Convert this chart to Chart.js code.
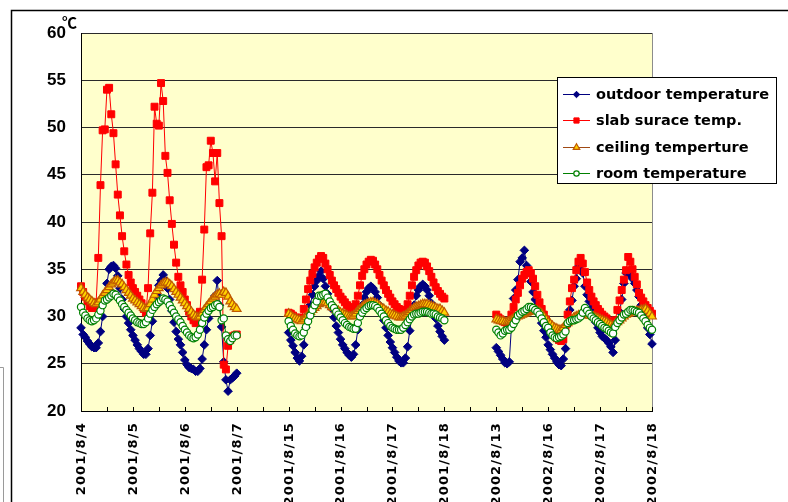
<!DOCTYPE html>
<html>
<head>
<meta charset="utf-8">
<script src="https://cdn.jsdelivr.net/npm/chart.js@4/dist/chart.umd.min.js"></script>
<style>
  html, body { margin: 0; padding: 0; background: #fff; }
  canvas { display: block; }
</style>
</head>
<body>
<canvas id="chart" width="788" height="502"></canvas>
<script>
// Day labels shown on the category axis (one every 24 hourly readings)
const dayLabels = ['2001/8/4', '2001/8/5', '2001/8/6', '2001/8/7',
                   '2001/8/15', '2001/8/16', '2001/8/17', '2001/8/18',
                   '2002/8/13', '2002/8/16', '2002/8/17', '2002/8/18'];
const HOURS_PER_DAY = 24;

// Each measurement run starts at the category of this day label
const runStarts = ['2001/8/4', '2001/8/15', '2002/8/13'];

const seriesNames = ['outdoor temperature', 'slab surace temp.', 'ceiling temperture', 'room temperature'];

// Hourly readings, °C — run 1
const outdoorRun1 = [28.8,28.1,27.8,27.4,27.1,26.8,26.7,26.7,27.2,28.4,
  30.0,31.8,33.5,35.0,35.3,35.4,35.1,34.3,33.0,31.8,
  30.8,30.0,29.3,28.6,28.0,27.5,27.0,26.6,26.3,26.0,
  26.0,26.6,28.0,29.5,31.0,32.3,33.3,33.8,34.4,33.8,
  33.0,31.8,30.6,29.4,28.4,27.6,27.0,26.2,25.4,24.9,
  24.6,24.5,24.4,24.2,24.2,24.5,25.5,27.0,28.6,29.8,
  30.8,31.5,32.2,33.8,31.2,28.9,25.2,23.3,22.1,23.3,
  23.5,23.7,24.0];
const slabRun1 = [33.2,32.6,32.1,31.6,31.1,30.9,30.9,31.5,36.2,43.9,
  49.7,49.8,54.0,54.2,51.4,49.4,46.1,42.9,40.7,38.5,
  36.9,35.5,34.4,33.6,33.0,32.6,32.2,31.8,31.4,30.8,
  30.4,33.0,38.8,43.1,52.2,50.4,50.2,54.7,52.8,47.0,
  45.2,42.3,39.8,37.6,35.7,34.2,33.3,32.6,31.8,31.2,
  30.5,30.0,29.6,29.3,29.4,30.5,33.9,39.2,45.8,46.0,
  48.6,47.3,44.3,47.3,42.0,38.5,24.9,24.4,26.9,27.5,
  27.9,28.0,28.1];
const ceilingRun1 = [33.0,32.6,32.3,32.0,31.8,31.6,31.4,31.3,31.5,31.8,
  32.2,32.5,32.8,33.1,33.4,33.6,33.8,33.8,33.6,33.4,
  33.1,32.8,32.5,32.2,31.9,31.7,31.5,31.3,31.1,30.9,
  30.8,30.9,31.3,31.8,32.3,32.7,33.0,33.3,33.5,33.6,
  33.6,33.4,33.2,32.9,32.6,32.3,32.0,31.7,31.4,31.1,
  30.8,30.5,30.2,30.0,29.9,30.0,30.3,30.7,31.0,31.3,
  31.6,31.9,32.1,32.3,32.4,32.3,32.6,32.5,32.1,31.6,
  31.3,31.0,30.8];
const roomRun1 = [31.0,30.4,30.1,29.8,29.6,29.5,29.6,29.8,30.2,30.6,
  31.2,31.7,31.8,32.0,32.2,32.4,32.3,32.0,31.7,31.3,
  31.0,30.7,30.4,30.1,29.8,29.6,29.4,29.3,29.2,29.2,
  29.4,29.8,30.3,30.7,31.0,31.3,31.5,31.7,31.9,31.8,
  31.6,31.2,30.8,30.4,30.0,29.7,29.4,29.0,28.6,28.3,
  28.0,27.8,27.7,27.8,28.1,28.6,29.3,29.9,30.3,30.6,
  30.9,31.0,31.2,31.3,31.0,29.6,29.8,28.0,27.6,27.4,
  27.7,28.0,28.0];

// Run 2
const outdoorRun2 = [28.3,27.5,26.9,26.2,25.6,25.3,25.8,27.0,28.8,30.2,
  31.2,32.3,33.2,33.8,34.3,34.8,34.0,33.2,32.4,31.5,
  30.8,29.9,29.0,28.3,27.6,27.0,26.6,26.2,25.9,25.7,
  26.0,27.0,28.6,30.2,31.2,32.0,32.6,33.0,33.2,33.0,
  32.6,32.0,31.2,30.4,29.6,28.8,28.0,27.3,26.7,26.2,
  25.7,25.3,25.1,25.1,25.6,26.8,28.5,30.0,31.2,32.2,
  32.8,33.2,33.4,33.2,32.8,32.2,31.4,30.6,29.8,29.0,
  28.4,27.9,27.5];
const slabRun2 = [30.4,30.3,30.1,29.9,29.8,29.7,29.9,30.8,31.8,32.9,
  33.8,34.5,35.2,35.7,36.1,36.4,36.2,35.6,35.0,34.4,
  33.8,33.3,32.9,32.5,32.1,31.8,31.5,31.2,31.0,30.8,
  30.7,31.3,32.2,33.3,34.3,35.0,35.5,35.8,36.0,35.9,
  35.5,35.0,34.4,33.8,33.3,32.8,32.4,32.0,31.6,31.3,
  31.0,30.8,30.6,30.5,30.7,31.3,32.2,33.3,34.2,34.9,
  35.4,35.7,35.8,35.7,35.3,34.8,34.2,33.6,33.1,32.7,
  32.4,32.1,31.9];
const ceilingRun2 = [30.3,30.1,29.9,29.8,29.7,29.6,29.5,29.7,29.9,30.2,
  30.5,30.7,30.9,31.1,31.3,31.4,31.5,31.5,31.4,31.2,
  31.0,30.9,30.7,30.6,30.4,30.3,30.2,30.1,30.0,30.0,
  30.1,30.3,30.6,30.8,31.0,31.2,31.3,31.4,31.5,31.5,
  31.4,31.3,31.1,30.9,30.8,30.6,30.5,30.3,30.2,30.1,
  30.0,29.9,29.9,30.0,30.1,30.3,30.5,30.7,30.9,31.0,
  31.1,31.2,31.3,31.3,31.3,31.2,31.1,31.0,30.9,30.8,
  30.8,30.6,30.4];
const roomRun2 = [29.5,29.0,28.6,28.2,28.0,27.9,28.0,28.3,28.9,29.5,
  30.1,30.7,31.2,31.6,32.2,32.2,32.3,32.4,32.0,31.6,
  31.2,30.9,30.5,30.2,29.9,29.6,29.3,29.1,28.9,28.8,
  28.7,28.7,29.3,30.0,30.4,30.7,30.9,31.1,31.2,31.2,
  31.1,30.9,30.6,30.3,30.0,29.6,29.3,29.0,28.8,28.7,
  28.6,28.6,28.6,28.8,29.1,29.4,29.7,30.0,30.2,30.3,
  30.3,30.4,30.5,30.5,30.5,30.4,30.3,30.3,30.2,30.0,
  29.9,29.8,29.6];

// Run 3
const outdoorRun3 = [26.7,26.3,25.9,25.5,25.1,25.0,25.2,28.9,31.9,32.8,
  33.9,35.8,36.2,37.0,35.4,34.9,33.7,32.6,31.8,31.2,
  30.2,29.3,28.5,27.8,27.0,26.5,26.0,25.6,25.2,24.9,
  24.8,25.5,26.6,29.1,30.7,31.7,33.2,34.0,35.3,34.9,
  34.6,33.2,32.3,31.6,30.8,30.2,29.4,28.8,28.3,27.9,
  27.7,27.5,27.2,26.8,26.2,27.5,29.3,30.5,31.8,33.5,
  34.6,34.6,34.4,34.0,33.5,32.8,32.1,31.2,30.4,29.6,
  28.8,28.1,27.1];
const slabRun3 = [30.2,29.9,29.7,29.5,29.4,29.3,29.5,30.2,31.0,31.8,
  32.5,33.3,34.0,34.4,34.7,34.9,34.6,34.0,33.2,32.3,
  31.5,30.8,30.2,29.7,29.2,28.8,28.4,28.0,27.7,27.5,
  27.4,27.6,28.8,30.2,31.6,33.0,33.9,34.9,35.8,36.2,
  35.6,34.7,33.6,32.8,32.1,31.6,31.2,30.8,30.5,30.2,
  30.0,29.8,29.5,29.2,29.1,29.6,30.7,31.7,32.8,33.9,
  34.9,36.3,35.8,35.0,34.2,33.4,32.5,32.0,31.6,31.2,
  30.9,30.6,30.3];
const ceilingRun3 = [29.7,29.6,29.5,29.5,29.4,29.4,29.5,29.6,29.8,29.9,
  30.0,30.1,30.2,30.3,30.4,30.5,30.6,30.7,30.7,30.6,
  30.5,30.3,30.0,29.7,29.4,29.2,29.0,28.8,28.7,28.6,
  28.6,28.8,29.1,29.3,29.5,29.7,29.9,30.0,30.1,30.2,
  30.2,30.2,30.2,30.1,30.1,30.0,29.9,29.8,29.7,29.6,
  29.5,29.4,29.2,29.1,29.0,29.2,29.4,29.6,29.8,30.0,
  30.2,30.3,30.4,30.5,30.5,30.6,30.6,30.7,30.7,30.8,
  30.6,30.3,30.0];
const roomRun3 = [28.6,28.3,28.0,28.2,28.5,28.6,28.6,28.8,29.2,29.6,
  30.1,30.3,30.5,30.6,30.8,31.0,31.0,30.9,30.7,30.5,
  30.2,29.8,29.4,29.0,28.8,28.3,28.0,27.8,27.7,27.8,
  27.9,28.1,28.4,29.3,29.5,29.6,29.6,29.7,29.8,30.0,
  30.4,30.9,30.6,30.3,30.0,29.8,29.6,29.4,29.2,29.0,
  28.8,28.7,28.5,28.3,28.2,28.9,29.3,29.6,29.9,30.2,
  30.3,30.5,30.7,30.7,30.6,30.5,30.4,30.1,29.8,29.5,
  29.1,28.8,28.6];

// Value axis
const yMin = 20, yMax = 60, yStep = 5;

// ---- build the hourly category axis and place each run on it ----
const categoryCount = (dayLabels.length - 1) * HOURS_PER_DAY + 1;
const categories = Array.from({ length: categoryCount }, (_, i) =>
  i % HOURS_PER_DAY === 0 ? dayLabels[i / HOURS_PER_DAY] : '');

function placeRuns(runs) {
  const out = new Array(categoryCount).fill(null);
  runs.forEach((run, r) => {
    const start = dayLabels.indexOf(runStarts[r]) * HOURS_PER_DAY;
    run.forEach((v, k) => { out[start + k] = v; });
  });
  return out;
}

const outdoor = placeRuns([outdoorRun1, outdoorRun2, outdoorRun3]);
const slab = placeRuns([slabRun1, slabRun2, slabRun3]);
const ceiling = placeRuns([ceilingRun1, ceilingRun2, ceilingRun3]);
const room = placeRuns([roomRun1, roomRun2, roomRun3]);

// ---- plugins: frame, plot background, axis decorations, legend ----
const framePlugin = {
  id: 'frame',
  beforeDraw(chart) {
    const { ctx, chartArea: a } = chart;
    ctx.save();
    ctx.fillStyle = '#ffffff';
    ctx.fillRect(0, 0, chart.width, chart.height);
    // outer chart border
    ctx.strokeStyle = '#000000';
    ctx.lineWidth = 1.5;
    ctx.beginPath();
    ctx.moveTo(11.5, chart.height + 2);
    ctx.lineTo(11.5, 10.5);
    ctx.lineTo(chart.width + 2, 10.5);
    ctx.stroke();
    // faint edge at the lower left
    ctx.strokeStyle = '#9a9a9a';
    ctx.lineWidth = 1;
    ctx.beginPath();
    ctx.moveTo(0, 367.5);
    ctx.lineTo(3.5, 367.5);
    ctx.lineTo(3.5, chart.height);
    ctx.stroke();
    // plot area fill
    ctx.fillStyle = '#ffffcc';
    ctx.fillRect(a.left, a.top, a.right - a.left, a.bottom - a.top);
    // right edge of the plot area
    ctx.strokeStyle = '#8c8c8c';
    ctx.beginPath();
    ctx.moveTo(Math.round(a.right) + 0.5, a.top);
    ctx.lineTo(Math.round(a.right) + 0.5, a.bottom);
    ctx.stroke();
    ctx.restore();
  }
};

const axisDecor = {
  id: 'axisDecor',
  afterDraw(chart) {
    const { ctx } = chart;
    const xs = chart.scales.x, ys = chart.scales.y;
    ctx.save();
    // tick marks every 12 hours, pointing into the plot
    ctx.strokeStyle = '#000000';
    ctx.lineWidth = 1;
    ctx.beginPath();
    for (let i = 0; i < categoryCount; i += HOURS_PER_DAY / 2) {
      const px = Math.round(xs.getPixelForValue(i)) + 0.5;
      ctx.moveTo(px, ys.bottom);
      ctx.lineTo(px, ys.bottom - 4);
    }
    ctx.stroke();
    // rotated day labels
    ctx.fillStyle = '#000000';
    ctx.font = 'bold 13px "DejaVu Sans"';
    ctx.letterSpacing = '1.2px';
    ctx.textAlign = 'right';
    ctx.textBaseline = 'middle';
    categories.forEach((lab, i) => {
      if (!lab) return;
      const px = xs.getPixelForValue(i);
      ctx.save();
      ctx.translate(px + 0.5, ys.bottom + 11);
      ctx.rotate(-Math.PI / 2);
      ctx.fillText(lab, 0, 0);
      ctx.restore();
    });
    ctx.letterSpacing = '0px';
    // unit label
    ctx.font = 'bold 15px "Noto Sans CJK JP"';
    ctx.textAlign = 'left';
    ctx.textBaseline = 'alphabetic';
    ctx.fillText('℃', 62, 28);
    ctx.restore();
  }
};

const boxLegend = {
  id: 'boxLegend',
  afterDraw(chart) {
    const { ctx } = chart;
    const box = { x: 557.5, y: 77.5, w: 219, h: 106 };
    const rows = [94, 120, 147, 173];
    ctx.save();
    ctx.fillStyle = '#ffffff';
    ctx.fillRect(box.x, box.y, box.w, box.h);
    ctx.strokeStyle = '#000000';
    ctx.lineWidth = 1;
    ctx.strokeRect(box.x, box.y, box.w, box.h);
    chart.data.datasets.forEach((ds, i) => {
      const y = rows[i];
      ctx.strokeStyle = ds.borderColor;
      ctx.lineWidth = ds.borderWidth;
      ctx.beginPath();
      ctx.moveTo(563, y + 0.5);
      ctx.lineTo(590, y + 0.5);
      ctx.stroke();
      ctx.fillStyle = ds.pointBackgroundColor;
      ctx.strokeStyle = ds.pointBorderColor;
      ctx.lineWidth = ds.pointBorderWidth;
      Chart.helpers.drawPoint(ctx, {
        pointStyle: ds.pointStyle,
        radius: ds.pointRadius * 0.75,
        rotation: 0,
        borderWidth: ds.pointBorderWidth
      }, 576.5, y + 0.5);
      ctx.fillStyle = '#000000';
      ctx.font = 'bold 14.5px "DejaVu Sans"';
      ctx.textAlign = 'left';
      ctx.textBaseline = 'middle';
      ctx.fillText(ds.label, 596, y + 1);
    });
    ctx.restore();
  }
};

new Chart(document.getElementById('chart'), {
  type: 'line',
  data: {
    labels: categories,
    datasets: [
      {
        label: seriesNames[0], data: outdoor, order: 3,
        borderColor: '#000080', borderWidth: 1,
        pointStyle: 'rectRot', pointRadius: 4.3,
        pointBackgroundColor: '#000080', pointBorderColor: '#000080', pointBorderWidth: 1
      },
      {
        label: seriesNames[1], data: slab, order: 2,
        borderColor: '#ff0000', borderWidth: 1,
        pointStyle: 'rect', pointRadius: 4.9,
        pointBackgroundColor: '#ff0000', pointBorderColor: '#ff0000', pointBorderWidth: 1
      },
      {
        label: seriesNames[2], data: ceiling, order: 1,
        borderColor: '#a04a14', borderWidth: 1,
        pointStyle: 'triangle', pointRadius: 5,
        pointBackgroundColor: '#ffd200', pointBorderColor: '#c05a00', pointBorderWidth: 1.2
      },
      {
        label: seriesNames[3], data: room, order: 0,
        borderColor: '#008000', borderWidth: 1,
        pointStyle: 'circle', pointRadius: 3.6,
        pointBackgroundColor: '#ffffff', pointBorderColor: '#008000', pointBorderWidth: 1.2
      }
    ]
  },
  options: {
    responsive: false,
    animation: false,
    devicePixelRatio: 1,
    spanGaps: false,
    clip: false,
    layout: { padding: { left: 0, top: 33, right: 136, bottom: 0 } },
    plugins: { legend: { display: false }, tooltip: { enabled: false } },
    elements: { line: { tension: 0 } },
    scales: {
      x: {
        type: 'category',
        offset: false,
        grid: { display: false },
        border: { display: true, color: '#000000', width: 1 },
        ticks: { display: false },
        afterFit(scale) { scale.height = 91; }
      },
      y: {
        min: yMin, max: yMax,
        grid: { color: '#2a2a2a', lineWidth: 1, drawTicks: false },
        border: { display: true, color: '#000000', width: 1 },
        ticks: {
          stepSize: yStep,
          padding: 15,
          color: '#000000',
          font: { family: '"Liberation Sans", Arial, sans-serif', weight: 'bold', size: 17 }
        },
        afterFit(scale) { scale.width = 81; }
      }
    }
  },
  plugins: [framePlugin, axisDecor, boxLegend]
});
</script>
</body>
</html>
